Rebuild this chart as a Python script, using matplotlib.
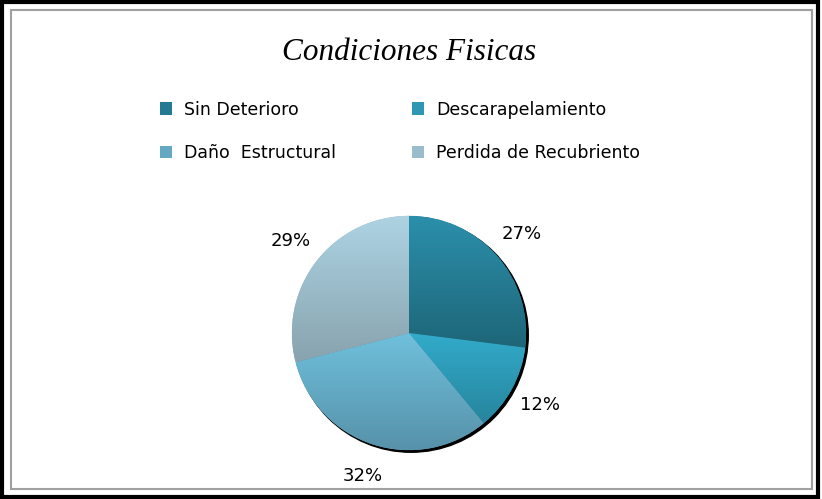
import matplotlib
matplotlib.use("Agg")
import matplotlib.pyplot as plt
import matplotlib.colors as mcolors
from matplotlib.patches import Rectangle, Circle
import numpy as np

categories = ["Sin Deterioro", "Descarapelamiento", "Daño  Estructural", "Perdida de Recubriento"]
values = [27, 12, 32, 29]
# gradient colours per slice (top, bottom)
top_colors = ["#2b8fab", "#32abcb", "#6fc0dc", "#add3e3"]
bot_colors = ["#1e6678", "#27859d", "#5792aa", "#88a3ae"]
mid_colors = ["#247a92", "#2d97b4", "#63a9c4", "#9bbcca"]

fig = plt.figure(figsize=(8.22, 4.99), dpi=100)

# borders
fig.patches.append(Rectangle((0.002, 0.004), 0.993, 0.992, transform=fig.transFigure,
                             fill=False, edgecolor="black", linewidth=3))
fig.patches.append(Rectangle((11 / 822, 10 / 499), 801 / 822, 479 / 499, transform=fig.transFigure,
                             fill=False, edgecolor="#a0a0a0", linewidth=1.5))

fig.text(409 / 822, 1 - 53 / 499, "Condiciones Fisicas", ha="center", va="center",
         fontsize=22.5, family="Liberation Serif", style="italic")

ax = fig.add_axes([286 / 822, 43 / 499, 246 / 822, 246 / 499])
wedges, texts = ax.pie(values, startangle=90, counterclock=False, colors=mid_colors,
                       labels=[f"{v}%" for v in values], labeldistance=1.28,
                       textprops=dict(fontsize=13, family="DejaVu Sans"),
                       wedgeprops=dict(linewidth=0))
for t in texts:
    t.set_horizontalalignment("center")
    t.set_verticalalignment("center")

# shadow
ax.add_patch(Circle((0.018, -0.018), 1.0, color="black", zorder=0))

for w, c1, c2 in zip(wedges, top_colors, bot_colors):
    ext = w.get_path().get_extents()
    cmap = mcolors.LinearSegmentedColormap.from_list("g", [c2, c1])
    grad = np.linspace(0, 1, 64).reshape(-1, 1)
    im = ax.imshow(grad, cmap=cmap, origin="lower", aspect="auto",
                   extent=(ext.x0, ext.x1, ext.y0, ext.y1), zorder=2)
    im.set_clip_path(w)
ax.set_xlim(-1.05, 1.05)
ax.set_ylim(-1.05, 1.05)
ax.set_aspect("equal")
ax.axis("off")

# legend filled row by row like the original
order = [0, 2, 1, 3]
handles = [Rectangle((0, 0), 1, 1, facecolor=mid_colors[i]) for i in order]
fig.legend(handles, [categories[i] for i in order], ncol=2, loc="upper left",
           bbox_to_anchor=(144 / 822, 1 - 85 / 499), frameon=False,
           prop=dict(family="DejaVu Sans", size=12.5), handlelength=0.7, handleheight=0.7,
           handletextpad=0.7, columnspacing=4.38, labelspacing=1.47)

fig.savefig("out.png", dpi=100, facecolor="white")
